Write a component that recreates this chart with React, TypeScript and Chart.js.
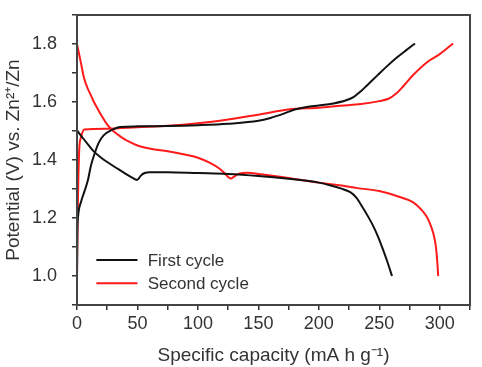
import React, { useEffect, useRef } from "react";
import { Chart, registerables } from "chart.js";

Chart.register(...registerables);

// First cycle – discharge
const firstDischargeX = [0, 5, 10, 14.3, 20, 25, 33.5, 40, 46, 49.5, 51, 53, 56, 60, 75, 100, 125, 150, 175, 200, 210, 218, 226, 231, 236, 241, 245, 249, 253, 257, 260.5];
const firstDischargeV = [1.502, 1.475, 1.449, 1.428, 1.408, 1.393, 1.37, 1.353, 1.338, 1.331, 1.336, 1.347, 1.355, 1.358, 1.358, 1.355, 1.352, 1.345, 1.335, 1.322, 1.312, 1.302, 1.289, 1.27, 1.238, 1.203, 1.172, 1.135, 1.092, 1.045, 1.0];
// First cycle – charge
const firstChargeX = [0, 0.3, 1, 3.3, 6, 9, 11.5, 14.8, 18, 22, 28, 36, 50, 75, 100, 125, 150, 160, 171, 180, 190, 200, 212, 222, 229, 235, 240, 248, 256, 265, 272, 279.5];
const firstChargeV = [1.0, 1.15, 1.21, 1.255, 1.29, 1.33, 1.38, 1.425, 1.46, 1.485, 1.502, 1.514, 1.516, 1.517, 1.52, 1.525, 1.535, 1.545, 1.56, 1.574, 1.583, 1.588, 1.595, 1.605, 1.618, 1.638, 1.658, 1.69, 1.722, 1.755, 1.778, 1.802];
// Second cycle – discharge
const secondDischargeX = [0, 1.5, 3, 6, 8.5, 11.5, 14, 17, 21, 25.3, 30, 36.3, 43, 50, 61, 75, 90, 100, 110, 118, 124, 127, 130, 134, 141, 150, 175, 200, 217, 232, 250, 265, 278, 284, 289, 292, 294.6, 296.3, 297.3, 298.1, 298.7];
const secondDischargeV = [1.8, 1.77, 1.74, 1.68, 1.65, 1.623, 1.6, 1.577, 1.548, 1.52, 1.5, 1.48, 1.463, 1.45, 1.439, 1.43, 1.418, 1.408, 1.39, 1.37, 1.346, 1.336, 1.343, 1.353, 1.356, 1.352, 1.338, 1.322, 1.313, 1.303, 1.293, 1.275, 1.254, 1.232, 1.206, 1.18, 1.148, 1.115, 1.081, 1.04, 1.0];
// Second cycle – charge
const secondChargeX = [0, 0.5, 1.2, 1.9, 3.5, 6, 25, 50, 75, 100, 125, 150, 176, 200, 218, 235, 250, 258, 264, 270, 278, 290, 300, 311];
const secondChargeV = [1.0, 1.2, 1.35, 1.44, 1.48, 1.505, 1.508, 1.513, 1.518, 1.527, 1.54, 1.556, 1.575, 1.58, 1.587, 1.593, 1.603, 1.612, 1.629, 1.655, 1.693, 1.739, 1.765, 1.802];

const legendLabels = ["First cycle", "Second cycle"];
const seriesColors = ["#111111", "#ff1a1a"];
const xTickLabels = [0, 50, 100, 150, 200, 250, 300];
const yTickLabels = [1.0, 1.2, 1.4, 1.6, 1.8];

const toPoints = (xs: number[], ys: number[]) => xs.map((x, i) => ({ x, y: ys[i] }));

const FONT = "'Liberation Sans', Arial, Helvetica, sans-serif";

export default function App() {
  const ref = useRef<HTMLCanvasElement | null>(null);
  useEffect(() => {
    document.body.style.margin = "0";
    const canvas = ref.current!;
    const mk = (xs: number[], ys: number[], ci: number, label: string) => ({
      label,
      data: toPoints(xs, ys),
      showLine: true,
      borderColor: seriesColors[ci],
      backgroundColor: seriesColors[ci],
      borderWidth: 2,
      pointRadius: 0,
      cubicInterpolationMode: "monotone" as const,
      fill: false,
    });
    const framePlugin = {
      id: "frame",
      afterDatasetsDraw(chart: any) {
        const { ctx, chartArea: a } = chart;
        ctx.save();
        ctx.strokeStyle = "#444";
        ctx.lineWidth = 2;
        ctx.strokeRect(a.left, a.top, a.right - a.left, a.bottom - a.top);
        ctx.restore();
      },
    };
    const legendPlugin = {
      id: "innerLegend",
      afterDraw(chart: any) {
        const { ctx, scales } = chart;
        const x0 = scales.x.getPixelForValue(16);
        const x1 = scales.x.getPixelForValue(50);
        const tx = scales.x.getPixelForValue(58.5);
        const ys = [scales.y.getPixelForValue(1.055), scales.y.getPixelForValue(0.975)];
        ctx.save();
        ctx.font = `17px ${FONT}`;
        ctx.textBaseline = "middle";
        ctx.fillStyle = "#333";
        legendLabels.forEach((lbl, i) => {
          ctx.strokeStyle = seriesColors[i];
          ctx.lineWidth = 2;
          ctx.beginPath();
          ctx.moveTo(x0, ys[i]);
          ctx.lineTo(x1, ys[i]);
          ctx.stroke();
          ctx.fillText(lbl, tx, ys[i] + 1);
        });
        ctx.restore();
      },
    };
    const chart = new Chart(canvas, {
      type: "scatter",
      data: {
        datasets: [
          mk(firstDischargeX, firstDischargeV, 0, legendLabels[0]),
          mk(firstChargeX, firstChargeV, 0, legendLabels[0]),
          mk(secondDischargeX, secondDischargeV, 1, legendLabels[1]),
          mk(secondChargeX, secondChargeV, 1, legendLabels[1]),
        ],
      },
      options: {
        animation: false,
        responsive: false,
        layout: { padding: { top: 15, right: 12, left: 0, bottom: 0 } },
        plugins: { legend: { display: false }, tooltip: { enabled: false } },
        scales: {
          x: {
            type: "linear",
            min: 0,
            max: 325,
            afterFit: (s: any) => { s.height = 62; s.paddingLeft = 0; s.paddingRight = 0; },
            ticks: {
              stepSize: 25,
              autoSkip: false,
              maxRotation: 0,
              padding: 3,
              color: "#333",
              font: { family: FONT, size: 18 },
              callback: (v: any) => (xTickLabels.includes(Number(v)) ? String(v) : ""),
            },
            grid: { drawOnChartArea: false, drawTicks: true, tickLength: 5, color: "#333", lineWidth: 1.5 },
            border: { display: true, color: "#333", width: 2 },
            title: {
              display: true,
              text: "Specific capacity (mA h g\u207B\u00B9)",
              color: "#333",
              font: { family: FONT, size: 19 },
              padding: { top: 1, bottom: 0 },
            },
          },
          y: {
            type: "linear",
            min: 0.9,
            max: 1.9,
            afterFit: (s: any) => { s.width = 77; s.paddingTop = 0; s.paddingBottom = 0; },
            ticks: {
              stepSize: 0.1,
              autoSkip: false,
              padding: 15,
              color: "#333",
              font: { family: FONT, size: 18 },
              callback: (v: any) => {
                const r = Math.round(Number(v) * 10) / 10;
                return yTickLabels.some((t) => Math.abs(t - r) < 1e-6) ? r.toFixed(1) : "";
              },
            },
            grid: { drawOnChartArea: false, drawTicks: true, tickLength: 5, color: "#333", lineWidth: 1.5 },
            border: { display: true, color: "#333", width: 2 },
            title: {
              display: true,
              text: "Potential (V) vs. Zn\u00B2\u207A/Zn",
              color: "#333",
              font: { family: FONT, size: 19 },
              padding: { top: 2, bottom: 0 },
            },
          },
        },
      },
      plugins: [framePlugin, legendPlugin],
    });
    return () => chart.destroy();
  }, []);
  return <canvas ref={ref} width={482} height={367} style={{ display: "block" }} />;
}
